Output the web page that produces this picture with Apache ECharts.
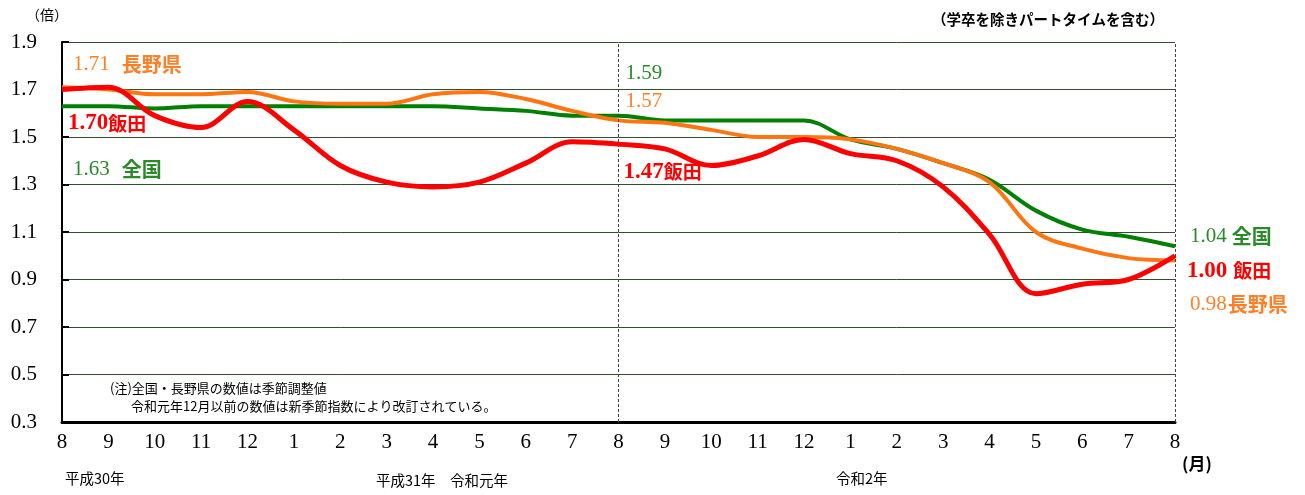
<!DOCTYPE html>
<html>
<head>
<meta charset="utf-8">
<script src="https://cdn.jsdelivr.net/npm/echarts@6/dist/echarts.min.js"></script>
<style>
    html, body { margin: 0; padding: 0; background: #fff; }
    #container { width: 1305px; height: 495px; }
</style>
</head>
<body>
<div id="container"></div>
<script>
    // months: 平成30年8月 .. 令和2年8月
    var months = ['8','9','10','11','12','1','2','3','4','5','6','7','8','9','10','11','12','1','2','3','4','5','6','7','8'];
    var zenkoku = [1.63,1.63,1.62,1.63,1.63,1.63,1.63,1.63,1.63,1.62,1.61,1.59,1.59,1.57,1.57,1.57,1.57,1.49,1.45,1.39,1.32,1.19,1.11,1.08,1.04];
    var nagano = [1.71,1.70,1.68,1.68,1.69,1.65,1.64,1.64,1.68,1.69,1.66,1.61,1.57,1.56,1.53,1.50,1.50,1.49,1.45,1.39,1.31,1.10,1.03,0.99,0.98];
    var iida = [1.70,1.71,1.59,1.54,1.65,1.53,1.38,1.31,1.29,1.31,1.39,1.48,1.47,1.45,1.38,1.42,1.49,1.43,1.40,1.29,1.09,0.84,0.88,0.90,1.00];
    var yMin = 0.3, yMax = 1.9, yStep = 0.2;

    var serif = '"Liberation Serif", "DejaVu Serif", serif';
    var jp = '"Noto Sans CJK JP", sans-serif';
    var GREEN = '#008000', ORANGE = '#ff7512', RED = '#ff0000';

    // label on one point of a line; '#' is replaced by the value
    function pt(arr, i, text, offset, color, bold, gap) {
        return {
            coord: [i, arr[i]],
            label: {
                show: true,
                position: 'right',
                distance: 0,
                offset: offset,
                formatter: text.replace('#', arr[i].toFixed(2)),
                rich: {
                    n: {fontFamily: serif, fontSize: bold ? 23 : 21, color: color, fontWeight: bold ? 'bold' : 'normal', padding: [0, gap || 0, 0, 0]},
                    t: {fontFamily: jp, fontSize: bold ? 19 : 20, color: color, fontWeight: 'bold'}
                }
            }
        };
    }
    function marks(list) {
        return {symbol: 'circle', symbolSize: 0, silent: true, data: list};
    }

    var chart = echarts.init(document.getElementById('container'));
    chart.setOption({
        animation: false,
        grid: {left: 62, right: 130, top: 42, bottom: 73},
        xAxis: {
            type: 'category',
            boundaryGap: false,
            data: months,
            axisLine: {lineStyle: {color: '#000', width: 3}},
            axisTick: {show: false},
            axisLabel: {fontFamily: serif, fontSize: 21, color: '#000', margin: 10, interval: 0},
            splitLine: {show: false}
        },
        yAxis: {
            type: 'value',
            min: yMin, max: yMax, interval: yStep,
            axisLine: {show: true, lineStyle: {color: '#000', width: 2}},
            axisTick: {show: true, inside: true, length: 7, lineStyle: {color: '#000', width: 2}},
            axisLabel: {
                fontFamily: serif, fontSize: 21, color: '#000', margin: 25,
                formatter: function (v) { return v.toFixed(1); }
            },
            splitLine: {lineStyle: {color: '#2f4f2f', width: 1}}
        },
        series: [
            {
                name: '全国', type: 'line', data: zenkoku, smooth: 0.35, showSymbol: false,
                lineStyle: {color: GREEN, width: 4}, z: 3,
                markLine: {
                    silent: true, symbol: 'none', label: {show: false},
                    lineStyle: {color: '#444', type: [3, 2], width: 1},
                    data: [{xAxis: 12}, {xAxis: 24}]
                },
                markPoint: marks([
                    pt(zenkoku, 0, '{n|#}{t|全国}', [11, 63], '#2a8a2a', false, 12),
                    pt(zenkoku, 12, '{n|#}', [7, -42], '#2a8a2a'),
                    pt(zenkoku, 24, '{n|#}{t|全国}', [15, -10], '#2a8a2a', false, 5)
                ])
            },
            {
                name: '長野県', type: 'line', data: nagano, smooth: 0.35, showSymbol: false,
                lineStyle: {color: ORANGE, width: 4}, z: 4,
                markPoint: marks([
                    pt(nagano, 0, '{n|#}{t|長野県}', [11, -23], '#ff7f27', false, 12),
                    pt(nagano, 12, '{n|#}', [7, -19], '#ff7f27'),
                    pt(nagano, 24, '{n|#}{t|長野県}', [15, 44], '#ff7f27', false, 1)
                ])
            },
            {
                name: '飯田', type: 'line', data: iida, smooth: 0.35, showSymbol: false,
                lineStyle: {color: RED, width: 5}, z: 5,
                markPoint: marks([
                    pt(iida, 0, '{n|#}{t|飯田}', [6, 34], RED, true),
                    pt(iida, 12, '{n|#}{t|飯田}', [5, 28], RED, true),
                    pt(iida, 24, '{n|#}{t|飯田}', [12, 15], RED, true, 6)
                ])
            }
        ],
        graphic: [
            {type: 'text', left: 26, top: 8, style: {text: '（倍）', font: '14px "Noto Sans CJK JP"', fill: '#000'}},
            {type: 'text', left: 932, top: 12, style: {text: '（学卒を除きパートタイムを含む）', font: 'bold 14.5px "Noto Sans CJK JP"', fill: '#000'}},
            {type: 'text', left: 110, top: 382, style: {text: '(注)全国・長野県の数値は季節調整値', font: '13px "Noto Sans CJK JP"', fill: '#000'}},
            {type: 'text', left: 131, top: 400, style: {text: '令和元年12月以前の数値は新季節指数により改訂されている。', font: '13px "Noto Sans CJK JP"', fill: '#000'}},
            {type: 'text', left: 65, top: 471, style: {text: '平成30年', font: '14.5px "Noto Sans CJK JP"', fill: '#000'}},
            {type: 'text', left: 376, top: 473, style: {text: '平成31年　令和元年', font: '14.5px "Noto Sans CJK JP"', fill: '#000'}},
            {type: 'text', left: 836, top: 471, style: {text: '令和2年', font: '14.5px "Noto Sans CJK JP"', fill: '#000'}},
            {type: 'text', left: 1182, top: 455, style: {text: '(月)', font: 'bold 17px "Noto Sans CJK JP"', fill: '#000'}}
        ]
    });
</script>
</body>
</html>
